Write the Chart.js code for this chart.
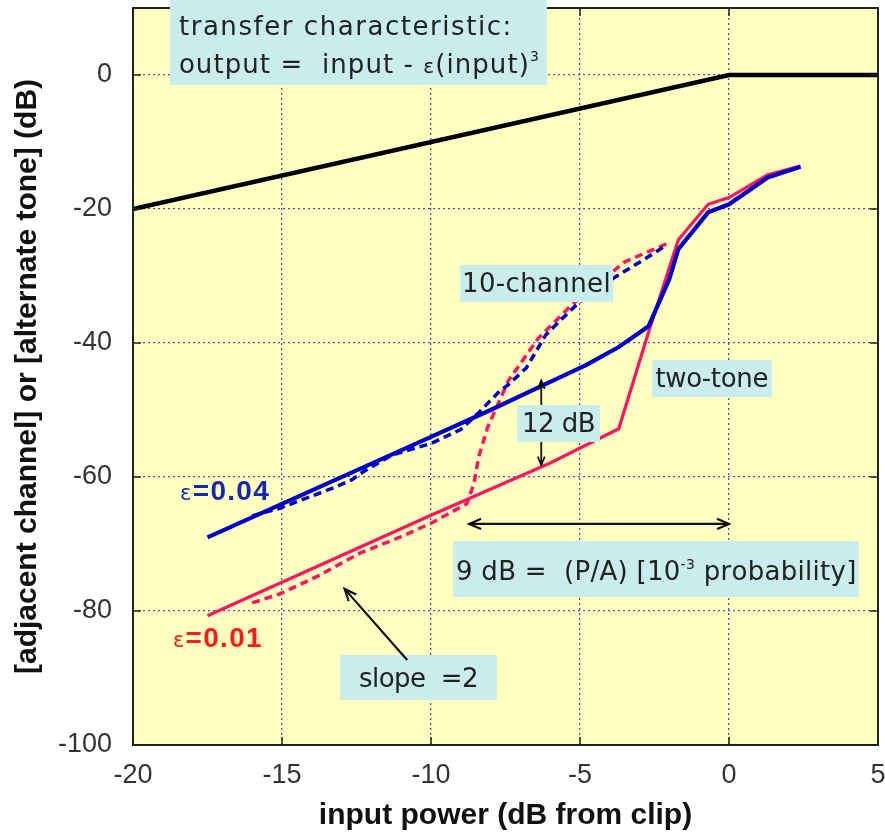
<!DOCTYPE html>
<html>
<head>
<meta charset="utf-8">
<script src="https://cdn.jsdelivr.net/npm/chart.js@4.4.1/dist/chart.umd.min.js"></script>
<style>
  html, body { margin: 0; padding: 0; background: #fff; }
  #wrap { width: 885px; height: 834px; }
</style>
</head>
<body>
<div id="wrap"><canvas id="chart-imd"></canvas></div>
<script>
// tick labels
const xTicks = [-20, -15, -10, -5, 0, 5];
const yTicks = [-100, -80, -60, -40, -20, 0];

// transfer characteristic: output vs input
const transferX = [-20, 0, 5];
const transferY = [-20, 0, 0];

// two-tone, eps = 0.04
const toneBlueX = [-17.5, -15, -12.5, -10, -8, -6, -4.8, -3.7, -2.7, -2.0, -1.7, -0.7, 0, 1.3, 2.4];
const toneBlueY = [-69, -64, -59, -54, -50, -45.8, -43.3, -40.6, -37.5, -30.4, -26, -20.5, -19.3, -15.3, -13.7];

// two-tone, eps = 0.01
const toneRedX = [-17.5, -10, -6, -3.7, -2.7, -1.7, -0.7, 0, 1.3, 2.4];
const toneRedY = [-80.7, -65.7, -57.9, -52.8, -38.4, -24.6, -19.3, -18.3, -14.9, -13.6];

// 10-channel, eps = 0.04
const chanBlueX = [-16, -15.1, -13.2, -12.65, -12.3, -11.3, -10, -9, -8.4, -7.7, -7.4, -6.8, -6.4, -6.15, -5.7, -5.0, -3.8, -2.8, -2.1];
const chanBlueY = [-65.8, -64.7, -61.5, -60.4, -59.3, -56.7, -55, -52.9, -50.4, -47.2, -46.2, -43.7, -40.7, -38.8, -36.8, -33.8, -30.1, -27.4, -25.4];

// 10-channel, eps = 0.01
const chanRedX = [-16, -15.1, -13.8, -12.4, -11, -10, -8.8, -8.56, -8.4, -8.1, -7.7, -7.4, -6.4, -5.3, -3.5, -2.1];
const chanRedY = [-78.8, -77.5, -74.8, -71.4, -68.9, -66.9, -64, -61, -57, -52.6, -48.6, -45.6, -39.3, -34.4, -27.9, -25.2];

const BLUE = '#0000c8';
const PINK = '#ff1464';
const BOX = '#c9ecec';
const TXT = '"DejaVu Sans", sans-serif';

function pts(xs, ys) {
  return xs.map((x, i) => ({ x: x, y: ys[i] }));
}

function line(label, xs, ys, color, width, dash) {
  return {
    label: label,
    data: pts(xs, ys),
    borderColor: color,
    borderWidth: width,
    borderDash: dash || [],
    pointRadius: 0,
    showLine: true,
    fill: false,
    tension: 0
  };
}

// draw text char by char so it can be spread to a given width
function drawRuns(ctx, runs, x, y, width, color) {
  let w = 0, n = 0;
  runs.forEach(r => { ctx.font = r.font; w += ctx.measureText(r.t).width; n += r.t.length; });
  const extra = width ? (width - w) / n : 0;
  ctx.fillStyle = color;
  ctx.textAlign = 'left';
  ctx.textBaseline = 'alphabetic';
  runs.forEach(r => {
    ctx.font = r.font;
    for (const ch of r.t) {
      ctx.fillText(ch, x, y - (r.dy || 0));
      x += ctx.measureText(ch).width + extra;
    }
  });
}

function arrowHead(ctx, x1, y1, x2, y2, len) {
  const a = Math.atan2(y2 - y1, x2 - x1);
  ctx.beginPath();
  ctx.moveTo(x2 - len * Math.cos(a - 0.4), y2 - len * Math.sin(a - 0.4));
  ctx.lineTo(x2, y2);
  ctx.lineTo(x2 - len * Math.cos(a + 0.4), y2 - len * Math.sin(a + 0.4));
  ctx.stroke();
}

function arrow(ctx, x1, y1, x2, y2, len, both) {
  ctx.beginPath();
  ctx.moveTo(x1, y1);
  ctx.lineTo(x2, y2);
  ctx.stroke();
  arrowHead(ctx, x1, y1, x2, y2, len);
  if (both) arrowHead(ctx, x2, y2, x1, y1, len);
}

// label boxes, in data units: [x1, yTop, x2, yBottom], baseline y, text width (px)
const labels = [
  { box: [-9.03, -28.36, -3.89, -33.88], base: -32.4, w: 149, runs: [{ t: '10-channel' }] },
  { box: [-2.58, -42.54, 1.44, -48.06], base: -46.6, w: 113, runs: [{ t: 'two-tone' }] },
  { box: [-7.11, -49.25, -4.33, -54.78], base: -53.3, w: 73, runs: [{ t: '12 dB' }] },
  { box: [-13.05, -86.57, -7.79, -93.28], base: -91.3, w: 119, runs: [{ t: 'slope  =2' }] },
  { box: [-9.26, -69.55, 4.36, -77.91], base: -75.4, w: 400,
    runs: [{ t: '9 dB =  (P/A) [10' }, { t: '-3', small: true, dy: 11 }, { t: ' probability]' }] }
];

const annotations = {
  id: 'annotations',
  beforeDraw(chart) {
    const { ctx, chartArea: a } = chart;
    ctx.save();
    ctx.fillStyle = '#ffffff';
    ctx.fillRect(0, 0, chart.width, chart.height);
    ctx.fillStyle = '#ffffc0';
    ctx.fillRect(a.left, a.top, a.right - a.left, a.bottom - a.top);
    ctx.restore();
  },
  afterDatasetsDraw(chart) {
    const { ctx, chartArea: a, scales: { x, y } } = chart;
    const px = v => x.getPixelForValue(v);
    const py = v => y.getPixelForValue(v);
    const big = '26px ' + TXT;
    const small = '14px ' + TXT;
    ctx.save();

    // frame and inward ticks
    ctx.strokeStyle = '#222';
    ctx.lineWidth = 2;
    ctx.strokeRect(a.left, a.top, a.right - a.left, a.bottom - a.top);
    ctx.lineWidth = 1.5;
    ctx.beginPath();
    xTicks.forEach(v => {
      ctx.moveTo(px(v), a.bottom); ctx.lineTo(px(v), a.bottom - 8);
      ctx.moveTo(px(v), a.top); ctx.lineTo(px(v), a.top + 8);
    });
    yTicks.forEach(v => {
      ctx.moveTo(a.left, py(v)); ctx.lineTo(a.left + 8, py(v));
      ctx.moveTo(a.right, py(v)); ctx.lineTo(a.right - 8, py(v));
    });
    ctx.stroke();

    // transfer characteristic box
    ctx.fillStyle = BOX;
    ctx.fillRect(px(-18.76), py(11.19), px(-6.11) - px(-18.76), py(-1.49) - py(11.19));
    drawRuns(ctx, [{ t: 'transfer characteristic:', font: big }], px(-18.46), py(5.97), 334, '#222');
    drawRuns(ctx, [
      { t: 'output =  input - ', font: big },
      { t: 'ε', font: '20px ' + TXT },
      { t: '(input)', font: big },
      { t: '3', font: small, dy: 12 }
    ], px(-18.46), py(0.3), 361, '#222');

    // other boxes
    labels.forEach(l => {
      const [x1, y1, x2, y2] = l.box;
      ctx.fillStyle = BOX;
      ctx.fillRect(px(x1), py(y1), px(x2) - px(x1), py(y2) - py(y1));
      const cx = (px(x1) + px(x2)) / 2;
      const runs = l.runs.map(r => ({ t: r.t, dy: r.dy, font: r.small ? small : big }));
      drawRuns(ctx, runs, cx - l.w / 2, py(l.base), l.w, '#222');
    });

    // arrows
    ctx.strokeStyle = '#111';
    ctx.lineWidth = 1.8;
    arrow(ctx, px(-6.3), py(-49.25), px(-6.3), py(-45.6), 9, false);
    arrow(ctx, px(-6.3), py(-54.78), px(-6.3), py(-58.2), 9, false);
    ctx.lineWidth = 2.2;
    arrow(ctx, px(-8.72), py(-67), px(0), py(-67), 13, true);
    arrow(ctx, px(-10.8), py(-87.3), px(-12.9), py(-76.7), 13, false);

    // epsilon labels
    drawRuns(ctx, [
      { t: 'ε', font: '21px ' + TXT },
      { t: '=0.04', font: 'bold 28px "Liberation Sans", Arial, sans-serif' }
    ], px(-18.42), py(-63.4), 90, '#1428b4');
    drawRuns(ctx, [
      { t: 'ε', font: '21px ' + TXT },
      { t: '=0.01', font: 'bold 28px "Liberation Sans", Arial, sans-serif' }
    ], px(-18.66), py(-85.4), 90, '#ff1a1a');

    ctx.restore();
  }
};

const tickFont = { family: '"Liberation Sans Narrow", "Arial Narrow", "Liberation Sans", sans-serif', size: 27 };
const titleFont = { family: '"Liberation Sans", Arial, sans-serif', size: 30, weight: 'bold' };
const gridStyle = { color: 'rgba(60, 60, 190, 0.9)', lineWidth: 1.3, drawTicks: false };

const ctx = document.getElementById('chart-imd');

new Chart(ctx, {
  type: 'scatter',
  data: {
    datasets: [
      line('two-tone, ε=0.04', toneBlueX, toneBlueY, BLUE, 4.2),
      line('two-tone, ε=0.01', toneRedX, toneRedY, PINK, 3.2),
      line('10-channel, ε=0.04', chanBlueX, chanBlueY, BLUE, 3.5, [8, 5]),
      line('10-channel, ε=0.01', chanRedX, chanRedY, PINK, 3.5, [8, 5]),
      line('transfer characteristic', transferX, transferY, '#000', 4.5)
    ]
  },
  options: {
    responsive: true,
    maintainAspectRatio: false,
    animation: false,
    layout: { padding: { top: 8, right: 7, left: 0, bottom: 0 } },
    plugins: {
      legend: { display: false },
      tooltip: { enabled: false }
    },
    scales: {
      x: {
        type: 'linear',
        min: -20,
        max: 5,
        afterBuildTicks: s => { s.ticks = xTicks.map(v => ({ value: v })); },
        afterFit: s => { s.height = 89; s.paddingLeft = 0; s.paddingRight = 0; },
        ticks: { font: tickFont, color: '#333', padding: 14, maxRotation: 0, autoSkip: false },
        grid: gridStyle,
        border: { display: false, dash: [2, 3] },
        title: { display: true, text: 'input power (dB from clip)', font: titleFont, color: '#111', padding: 0 }
      },
      y: {
        type: 'linear',
        min: -100,
        max: 10,
        afterBuildTicks: s => { s.ticks = yTicks.map(v => ({ value: v })); },
        afterFit: s => { s.width = 133; s.paddingTop = 0; s.paddingBottom = 0; },
        ticks: { font: tickFont, color: '#333', padding: 21 },
        grid: gridStyle,
        border: { display: false, dash: [2, 3] },
        title: { display: true, text: '[adjacent channel] or [alternate tone] (dB)', font: titleFont, color: '#111', padding: { top: 10, bottom: 0 } }
      }
    }
  },
  plugins: [annotations]
});
</script>
</body>
</html>
